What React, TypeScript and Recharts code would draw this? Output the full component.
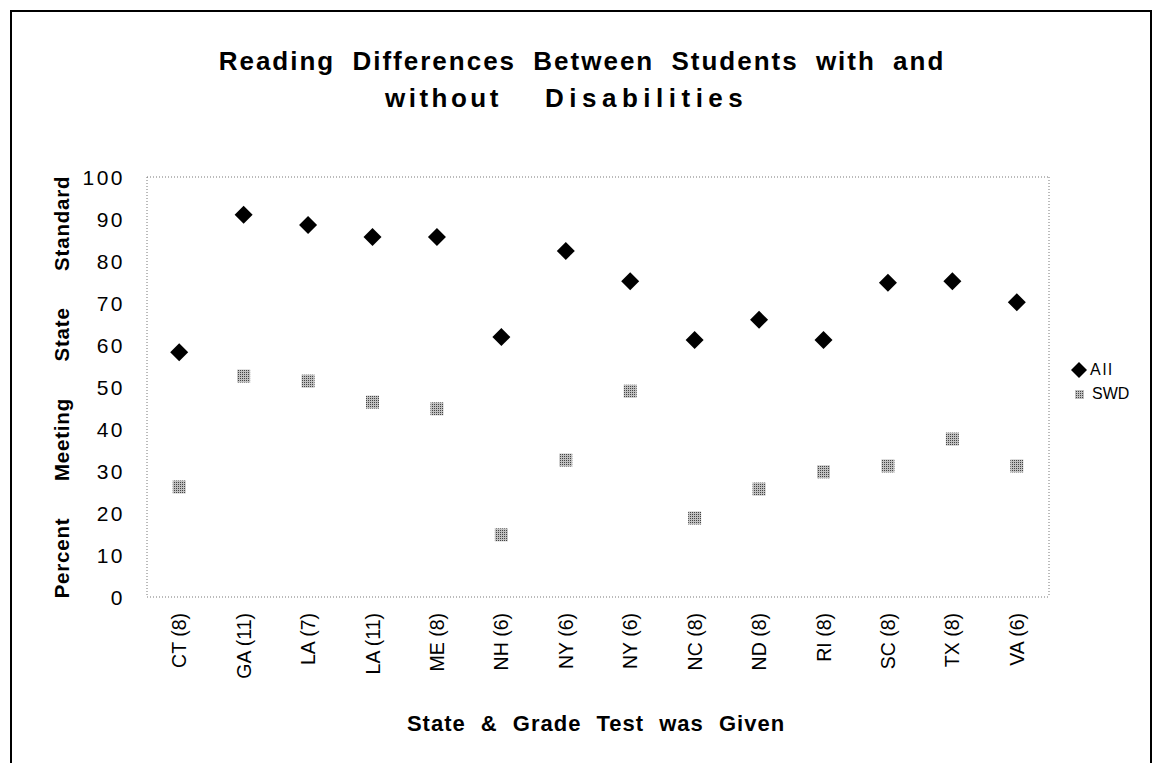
import React from "react";
import { ComposedChart, Scatter, XAxis, YAxis, CartesianGrid } from "recharts";

const categories = ["CT (8)", "GA (11)", "LA (7)", "LA (11)", "ME (8)", "NH (6)", "NY (6)", "NY (6)", "NC (8)", "ND (8)", "RI (8)", "SC (8)", "TX (8)", "VA (6)"];
const allValues = [58.3, 91, 88.6, 85.7, 85.7, 61.9, 82.4, 75.2, 61.2, 66, 61.2, 74.8, 75.2, 70.2];
const swdValues = [26.2, 52.6, 51.4, 46.4, 44.8, 14.8, 32.6, 49, 18.8, 25.7, 29.8, 31.2, 37.6, 31.2];
const yTicks = [0, 10, 20, 30, 40, 50, 60, 70, 80, 90, 100];

const data = categories.map((c, i) => ({ idx: i, label: c, all: allValues[i], swd: swdValues[i] }));

const FONT = "'Liberation Sans', Arial, sans-serif";

const Diamond = (props: any) => {
  const { cx, cy } = props;
  if (cx == null || cy == null) return null;
  const r = 9;
  return <path d={`M${cx},${cy - r}L${cx + r},${cy}L${cx},${cy + r}L${cx - r},${cy}Z`} fill="#000" />;
};

const Square = (props: any) => {
  const { cx, cy } = props;
  if (cx == null || cy == null) return null;
  const s = 6.5;
  return <rect x={cx - s} y={cy - s} width={2 * s} height={2 * s} fill="url(#dots)" />;
};

const XTick = (props: any) => {
  const { x, payload } = props;
  const lbl = categories[payload.value] ?? "";
  const ty = 613;
  return (
    <text x={x} y={ty} transform={`rotate(-90 ${x} ${ty})`} textAnchor="end" dominantBaseline="central" fontSize={19.5} fontFamily={FONT} fill="#000">
      {lbl}
    </text>
  );
};

const YTick = (props: any) => {
  const { y, payload } = props;
  return (
    <text x={125} y={y} textAnchor="end" dominantBaseline="central" fontSize={21} fontFamily={FONT} fill="#000" letterSpacing={2.5}>
      {payload.value}
    </text>
  );
};

const gridH = (p: any) => [p.offset.top, p.offset.top + p.offset.height];
const gridV = (p: any) => [p.offset.left, p.offset.left + p.offset.width];

const titleStyle: React.CSSProperties = { position: "absolute", whiteSpace: "nowrap", fontFamily: FONT, fontWeight: "bold", fontSize: 26, lineHeight: "37px", color: "#000" };

export default function App() {
  return (
    <div style={{ position: "absolute", left: 0, top: 0, width: 1152, height: 763, background: "#fff", overflow: "hidden" }}>
      <div style={{ position: "absolute", left: 10, top: 10, width: 1138, height: 800, borderLeft: "2px solid #000", borderTop: "2px solid #000", borderRight: "2px solid #000" }} />
      <div style={{ ...titleStyle, left: 0, top: 43, width: 1164, textAlign: "center", letterSpacing: 2, wordSpacing: 8 }}>
        Reading Differences Between Students with and
      </div>
      <div style={{ ...titleStyle, left: 385, top: 80, letterSpacing: 3.5 }}>without</div>
      <div style={{ ...titleStyle, left: 545, top: 80, letterSpacing: 5.5 }}>Disabilities</div>
      <div style={{ position: "absolute", left: 62, top: 387, width: 0, height: 0 }}>
        <div style={{ position: "absolute", transform: "translate(-50%, -50%) rotate(-90deg)", whiteSpace: "nowrap", fontFamily: FONT, fontWeight: "bold", fontSize: 20.5, letterSpacing: 0.8, wordSpacing: 30, color: "#000", lineHeight: "20px" }}>
          Percent Meeting State Standard
        </div>
      </div>
      <div style={{ position: "absolute", left: 0, top: 711, width: 1192, textAlign: "center", fontFamily: FONT, fontWeight: "bold", fontSize: 22, lineHeight: "26px", letterSpacing: 1, wordSpacing: 8, color: "#000" }}>
        State &amp; Grade Test was Given
      </div>
      <div style={{ position: "absolute", left: 1070, top: 358, fontFamily: FONT, fontSize: 16, color: "#000", lineHeight: "24px" }}>
        <div style={{ display: "flex", alignItems: "center" }}>
          <svg width={18} height={18}><path d="M9,1L17,9L9,17L1,9Z" fill="#000" /></svg>
          <span style={{ marginLeft: 2, letterSpacing: 2 }}>All</span>
        </div>
        <div style={{ display: "flex", alignItems: "center" }}>
          <svg width={18} height={18}><defs><pattern id="dotsL" width={2} height={2} patternUnits="userSpaceOnUse"><rect width={2} height={2} fill="#c0c0c0" /><rect width={1} height={1} fill="#444" /></pattern></defs><rect x={5} y={5} width={9} height={9} fill="url(#dotsL)" /></svg>
          <span style={{ marginLeft: 4 }}>SWD</span>
        </div>
      </div>
      <ComposedChart width={1152} height={763} data={data} margin={{ top: 177, right: 103, bottom: 46, left: 87 }} style={{ position: "absolute", left: 0, top: 0 }}>
        <defs>
          <pattern id="dots" width={2} height={2} patternUnits="userSpaceOnUse">
            <rect width={2} height={2} fill="#c0c0c0" />
            <rect width={1} height={1} fill="#444" />
          </pattern>
        </defs>
        <CartesianGrid stroke="#777" strokeDasharray="1 2" horizontalCoordinatesGenerator={gridH} verticalCoordinatesGenerator={gridV} />
        <XAxis dataKey="idx" type="category" scale="band" height={120} tick={<XTick />} tickLine={false} axisLine={false} interval={0} />
        <YAxis domain={[0, 100]} ticks={yTicks} width={60} tick={<YTick />} tickLine={false} axisLine={false} interval={0} />
        <Scatter dataKey="all" shape={<Diamond />} isAnimationActive={false} />
        <Scatter dataKey="swd" shape={<Square />} isAnimationActive={false} />
      </ComposedChart>
    </div>
  );
}
